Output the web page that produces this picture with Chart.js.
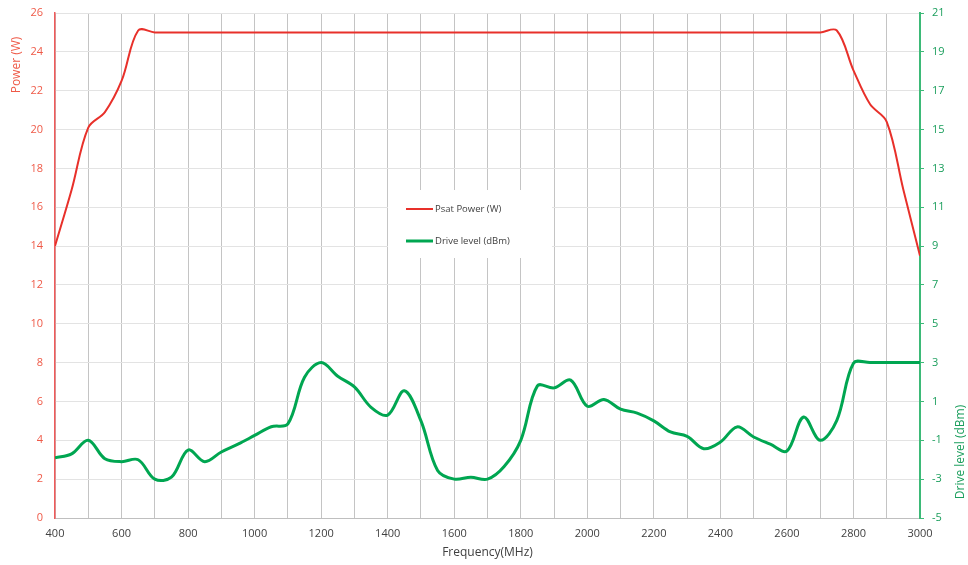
<!DOCTYPE html>
<html lang="en">
<head>
    <meta charset="UTF-8">
    <title>Psat Power / Drive level</title>
    <script src="https://cdn.jsdelivr.net/npm/chart.js@4.4.1/dist/chart.umd.min.js"></script>
    <style>
        html, body { margin: 0; padding: 0; background: #ffffff; }
        #wrap { width: 968px; height: 565px; }
    </style>
</head>
<body>
    <div id="wrap"><canvas id="powerChart" width="968" height="565"></canvas></div>

    <script>
        const freqs = [400, 450, 500, 550, 600, 650, 700, 750, 800, 850, 900, 950, 1000, 1050, 1100, 1150, 1200, 1250,
            1300, 1350, 1400, 1450, 1500, 1550, 1600, 1650, 1700, 1750, 1800, 1850, 1900, 1950, 2000, 2050, 2100, 2150,
            2200, 2250, 2300, 2350, 2400, 2450, 2500, 2550, 2600, 2650, 2700, 2750, 2800, 2850, 2900, 2950, 3000];

        // Psat Power (W), left axis
        const psatPower = [14.0, 16.9, 20.1, 20.9, 22.5, 25.1, 25, 25, 25, 25, 25, 25, 25, 25, 25, 25, 25, 25,
            25, 25, 25, 25, 25, 25, 25, 25, 25, 25, 25, 25, 25, 25, 25, 25, 25, 25,
            25, 25, 25, 25, 25, 25, 25, 25, 25, 25, 25, 25.1, 23.05, 21.3, 20.4, 16.9, 13.5];

        // Drive level (dBm), right axis
        const driveLevel = [-1.9, -1.7, -1.0, -1.95, -2.1, -2.0, -3.0, -2.9, -1.5, -2.1, -1.6, -1.2, -0.75, -0.3, -0.15, 2.25, 3.0, 2.3,
            1.75, 0.7, 0.3, 1.55, 0.0, -2.55, -3.0, -2.9, -3.0, -2.35, -1.0, 1.8, 1.7, 2.1, 0.75, 1.1, 0.6, 0.4,
            0.0, -0.57, -0.8, -1.43, -1.09, -0.31, -0.83, -1.2, -1.55, 0.2, -1.0, 0.03, 2.97, 3.0, 3.0, 3.0, 3.0];

        const FONT = "'Open Sans', 'Noto Sans', sans-serif";
        const RED = '#e8302a';
        const RED_TEXT = '#ef5a48';
        const GREEN = '#00a651';
        const GREEN_AXIS = '#3dba78';
        const GREEN_TEXT = '#1a9e5c';

        // white floating legend in the middle of the plot
        const floatLegend = {
            id: 'floatLegend',
            beforeDatasetsDraw(chart) {
                const ctx = chart.ctx;
                ctx.save();
                ctx.fillStyle = '#ffffff';
                ctx.fillRect(388, 190, 164, 68);
                ctx.restore();
            },
            afterDraw(chart) {
                const ctx = chart.ctx;
                ctx.save();
                const rows = [209, 241];
                chart.data.datasets.forEach((ds, i) => {
                    ctx.strokeStyle = ds.borderColor;
                    ctx.lineWidth = ds.borderWidth;
                    ctx.beginPath();
                    ctx.moveTo(406, rows[i]);
                    ctx.lineTo(433, rows[i]);
                    ctx.stroke();
                    ctx.fillStyle = '#404040';
                    ctx.font = '9.5px ' + FONT;
                    ctx.textBaseline = 'middle';
                    ctx.fillText(ds.label, 435, rows[i]);
                });

                // axis titles, both reading bottom to top
                ctx.font = '12px ' + FONT;
                ctx.textAlign = 'center';
                ctx.textBaseline = 'middle';
                ctx.translate(17, 65);
                ctx.rotate(-Math.PI / 2);
                ctx.fillStyle = RED_TEXT;
                ctx.fillText('Power (W)', 0, 0);
                ctx.setTransform(1, 0, 0, 1, 0, 0);
                ctx.translate(961, 452);
                ctx.rotate(-Math.PI / 2);
                ctx.fillStyle = GREEN_TEXT;
                ctx.fillText('Drive level (dBm)', 0, 0);
                ctx.restore();
            }
        };

        const ctx = document.getElementById('powerChart').getContext('2d');
        new Chart(ctx, {
            type: 'line',
            data: {
                labels: freqs,
                datasets: [{
                    label: 'Psat Power (W)',
                    data: freqs.map((f, i) => ({ x: f, y: psatPower[i] })),
                    borderColor: RED,
                    borderWidth: 2,
                    yAxisID: 'y',
                    pointRadius: 0,
                    tension: 0.35,
                    fill: false
                }, {
                    label: 'Drive level (dBm)',
                    data: freqs.map((f, i) => ({ x: f, y: driveLevel[i] })),
                    borderColor: GREEN,
                    borderWidth: 3,
                    yAxisID: 'y1',
                    pointRadius: 0,
                    tension: 0.35,
                    fill: false
                }]
            },
            options: {
                responsive: false,
                animation: false,
                layout: { padding: { top: 13, left: 0, right: 0, bottom: 0 } },
                plugins: {
                    legend: { display: false },
                    tooltip: { enabled: false }
                },
                scales: {
                    x: {
                        type: 'linear',
                        min: 400,
                        max: 3000,
                        afterFit: s => { s.height = 47; s.paddingLeft = 0; s.paddingRight = 0; },
                        border: { color: '#bfbfbf', width: 1 },
                        grid: { color: '#c4c4c4', drawTicks: false },
                        ticks: {
                            stepSize: 100,
                            autoSkip: false,
                            maxRotation: 0,
                            padding: 9,
                            color: '#404040',
                            font: { family: FONT, size: 11 },
                            callback: v => (v % 200 === 0 ? v : '')
                        },
                        title: {
                            display: true,
                            text: 'Frequency(MHz)',
                            color: '#404040',
                            font: { family: FONT, size: 12 },
                            padding: { top: 0, bottom: 5 }
                        }
                    },
                    y: {
                        position: 'left',
                        min: 0,
                        max: 26,
                        afterFit: s => { s.width = 55; s.paddingTop = 0; s.paddingBottom = 0; },
                        border: { color: '#f05a5a', width: 1.5 },
                        grid: { color: '#e3e3e3', drawTicks: false },
                        ticks: {
                            stepSize: 2,
                            padding: 12,
                            color: RED_TEXT,
                            font: { family: FONT, size: 11 }
                        }
                    },
                    y1: {
                        position: 'right',
                        min: -5,
                        max: 21,
                        afterFit: s => { s.width = 48; s.paddingTop = 0; s.paddingBottom = 0; },
                        border: { color: GREEN_AXIS, width: 2 },
                        grid: { drawOnChartArea: false, color: GREEN_AXIS, tickLength: 4 },
                        ticks: {
                            stepSize: 2,
                            padding: 8,
                            color: GREEN_TEXT,
                            font: { family: FONT, size: 11 }
                        }
                    }
                }
            },
            plugins: [floatLegend]
        });
    </script>
</body>
</html>
